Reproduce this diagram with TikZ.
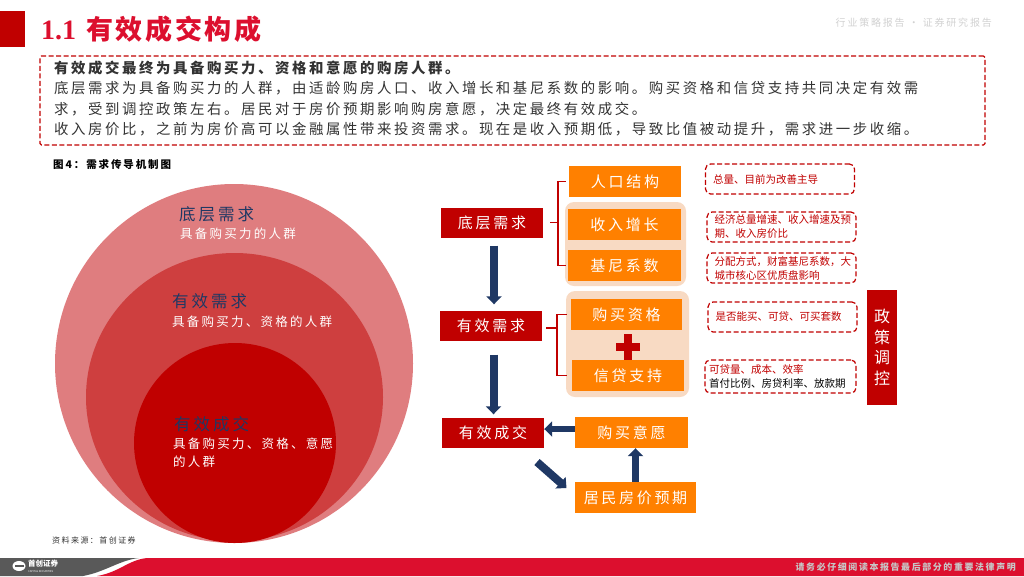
\documentclass[tikz,border=0pt]{standalone}
\usepackage{fontspec}
\setmainfont{Noto Sans CJK SC}
\newfontfamily\widecjk[LetterSpace=18]{Noto Sans CJK SC}
\newfontfamily\titlecjk[LetterSpace=10]{Noto Sans CJK SC}
\newfontfamily\titlelatin{Liberation Serif}
\newcommand{\sized}[2]{\fontsize{#1}{#2}\selectfont}
\usetikzlibrary{arrows.meta}
\definecolor{deepred}{HTML}{C00000}
\definecolor{midred}{HTML}{CE3F3F}
\definecolor{palered}{HTML}{DF7D7F}
\definecolor{crimson}{HTML}{DC0F2E}
\definecolor{boxorange}{HTML}{FF8000}
\definecolor{peach}{HTML}{F8DAC3}
\definecolor{navy}{HTML}{1F3864}
\definecolor{bandgrey}{HTML}{595959}

\begin{document}
\begin{tikzpicture}[x=1pt,y=-1pt,
    redbox/.style={fill=deepred,text=white,minimum width=102pt,minimum height=30pt,inner sep=0pt,font=\widecjk\sized{15}{18}},
    orangebox/.style={fill=boxorange,text=white,minimum width=112pt,minimum height=31pt,inner sep=0pt,font=\widecjk\sized{15}{18}},
    peachbox/.style={fill=peach,rounded corners=9pt,inner sep=0pt},
    notebox/.style={draw=deepred,line width=1.2pt,dash pattern=on 5pt off 2.5pt,rounded corners=5pt,text=deepred,text width=134pt,minimum height=30pt,inner xsep=7.5pt,inner ysep=0pt,align=left,font=\sized{10.5}{14}},
    circlehead/.style={anchor=west,inner sep=0pt,text=navy,font=\widecjk\sized{16.5}{20}},
    circletext/.style={anchor=west,inner sep=0pt,text=white,align=left,font=\widecjk\sized{12.5}{18}},
    blockarrow/.style={draw=navy,line width=8pt,-{Triangle[length=8pt,width=15pt]}},
    bracket/.style={draw=deepred,line width=1.8pt}]
  \useasboundingbox (0,0) rectangle (1024,576);

  \fill[deepred] (0,11) rectangle (25,47);
  \node[anchor=west,inner sep=0pt,text=crimson] (title) at (41,29) {\titlelatin\bfseries\sized{28}{32}1.1 \hspace{3pt}\titlecjk\sized{27}{32}有效成交构成};
  \node[anchor=east,inner sep=0pt,text=black!18,font=\widecjk\sized{10}{12}] (header) at (992,23) {行业策略报告 · 证券研究报告};

  \node[draw=deepred,line width=1.2pt,dash pattern=on 5pt off 2.5pt,rounded corners=1.5pt,minimum width=945pt,minimum height=89pt,inner sep=0pt] (introbox) at (512.5,100.5) {};
  \node[anchor=west,inner sep=0pt,align=left,text=black!80,font=\widecjk\sized{14.4}{20.3}] (introtext) at (54,98.5) {\textbf{有效成交最终为具备购买力、资格和意愿的购房人群。}\\
    底层需求为具备购买力的人群，由适龄购房人口、收入增长和基尼系数的影响。购买资格和信贷支持共同决定有效需\\
    求，受到调控政策左右。居民对于房价预期影响购房意愿，决定最终有效成交。\\
    收入房价比，之前为房价高可以金融属性带来投资需求。现在是收入预期低，导致比值被动提升，需求进一步收缩。};

  \node[anchor=west,inner sep=0pt,font=\widecjk\bfseries\sized{10.5}{12}] (figcap) at (53,164) {图4：需求传导机制图};
  \node[anchor=west,inner sep=0pt,text=black!80,font=\widecjk\sized{8}{10}] (source) at (52,540) {资料来源：首创证券};

  \fill[palered] (234,363.5) ellipse [x radius=179pt,y radius=179.5pt];
  \fill[midred] (234.5,397) ellipse [x radius=148.5pt,y radius=144pt];
  \fill[deepred] (235,443) ellipse [x radius=101pt,y radius=100pt];
  \node[circlehead] (basehead) at (179,214) {底层需求};
  \node[circletext] (basetext) at (180,234) {具备购买力的人群};
  \node[circlehead] (validhead) at (172,301) {有效需求};
  \node[circletext] (validtext) at (172,322) {具备购买力、资格的人群};
  \node[circlehead] (dealhead) at (174,424) {有效成交};
  \node[circletext] (dealtext) at (173,453) {具备购买力、资格、意愿\\的人群};

  \node[peachbox,minimum width=121pt,minimum height=84pt] (peachup) at (625.5,244) {};
  \node[peachbox,minimum width=123pt,minimum height=106pt] (peachdown) at (627.5,344) {};

  \node[redbox] (base) at (492,222.5) {底层需求};
  \node[redbox] (valid) at (491,325.5) {有效需求};
  \node[redbox] (deal) at (493,432.5) {有效成交};

  \node[orangebox] (pop) at (625,181.5) {人口结构};
  \node[orangebox,minimum width=113pt] (income) at (624.5,224.5) {收入增长};
  \node[orangebox,minimum width=113pt] (gini) at (624.5,265.5) {基尼系数};
  \node[orangebox,minimum width=111pt] (qual) at (626.5,314.5) {购买资格};
  \node[orangebox] (credit) at (628,375.5) {信贷支持};
  \node[orangebox,minimum width=113pt] (will) at (631.5,432.5) {购买意愿};
  \node[orangebox,minimum width=121pt] (expect) at (635.5,497.5) {居民房价预期};

  \fill[deepred] (616,343) rectangle (640,351);
  \fill[deepred] (624,334) rectangle (632,360);

  \draw[bracket] ([xshift=-3pt]pop.west) -- ++(-8,0) |- ([xshift=-2pt]gini.west);
  \draw[bracket] ([xshift=7pt]base.east) -- ++(8,0);
  \draw[bracket] ([xshift=-4pt]qual.west) -- ++(-10,0) |- ([xshift=-5pt]credit.west);
  \draw[bracket] ([xshift=4pt,yshift=-2.5pt]valid.east) -- ++(11,0);

  \coordinate (diagstart) at (537,462);
  \coordinate (diagend) at (566.5,488);
  \draw[blockarrow,shorten <=8pt,shorten >=6pt] ([xshift=2pt]base.south) -- ([xshift=2pt]valid.north -| base.south);
  \draw[blockarrow,shorten <=14pt,shorten >=3pt] ([xshift=2.5pt]valid.south) -- ([xshift=2.5pt]deal.north -| valid.south);
  \draw[blockarrow,line width=6.5pt] ([yshift=3.5pt]will.west) -- ([yshift=3.5pt]deal.east);
  \draw[blockarrow,line width=6.5pt] (expect.north) -- (expect.north |- will.south);
  \draw[blockarrow] (diagstart) -- (diagend);

  \node[notebox] (notea) at (780,179) {总量、目前为改善主导};
  \node[notebox] (noteb) at (781.5,227) {经济总量增速、收入增速及预\\期、收入房价比};
  \node[notebox] (notec) at (781.5,268) {分配方式，财富基尼系数，大\\城市核心区优质盘影响};
  \node[notebox] (noted) at (782.5,317) {是否能买、可贷、可买套数};
  \node[notebox,minimum height=33pt,inner xsep=4pt,text width=143pt] (notee) at (780.5,376.5) {可贷量、成本、效率\\\textcolor{black}{首付比例、房贷利率、放款期}};

  \node[fill=deepred,text=white,minimum width=30pt,minimum height=115pt,inner sep=0pt,align=center,font=\sized{16}{20.5}] (policy) at (882,347.5) {政\\策\\调\\控};

  \fill[bandgrey] (0,558) -- (139,558) .. controls (120,560) and (105,572) .. (83,576) -- (0,576) -- cycle;
  \fill[crimson] (147,558) -- (1024,558) -- (1024,576) -- (97,576) .. controls (120,572) and (128,560) .. (147,558) -- cycle;
  \fill[white] (19,566) ellipse [x radius=6.5pt,y radius=5pt];
  \fill[bandgrey] (15,565) rectangle (24,567);
  \node[anchor=west,inner sep=0pt,text=white,font=\bfseries\sized{7.5}{8}] (logoname) at (28,564) {首创证券};
  \node[anchor=west,inner sep=0pt,text=white,font=\sized{2.6}{3}] (logotext) at (28,571.5) {CAPITAL SECURITIES};
  \node[anchor=east,inner sep=0pt,text=black!22,font=\widecjk\bfseries\sized{8.95}{10}] (footer) at (1016,567) {请务必仔细阅读本报告最后部分的重要法律声明};
\end{tikzpicture}
\end{document}
